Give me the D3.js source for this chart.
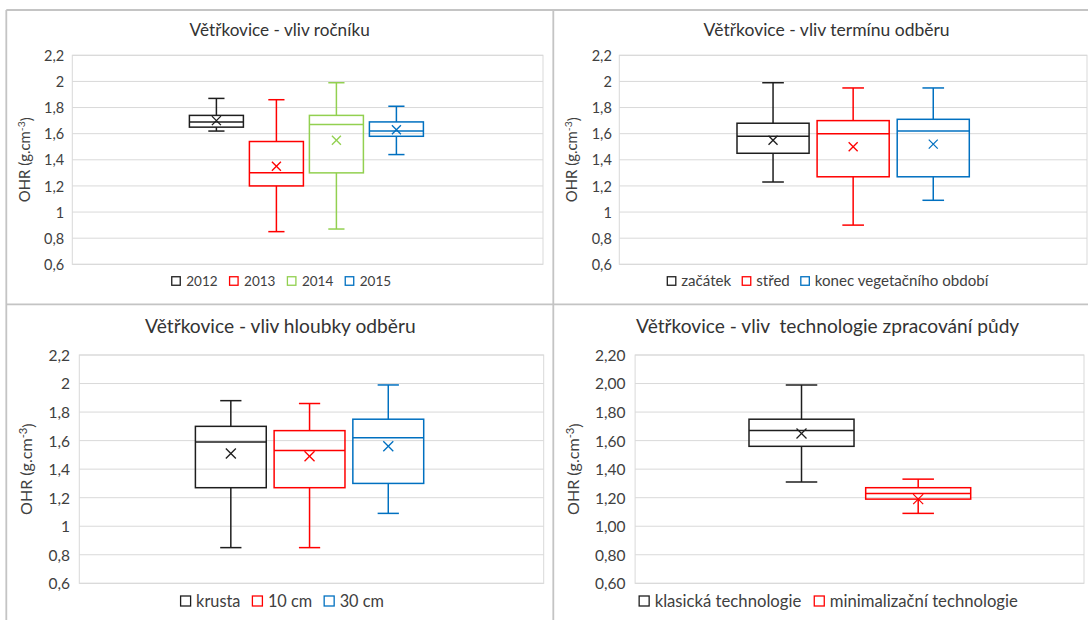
<!DOCTYPE html>
<html><head><meta charset="utf-8">
<script src="https://cdn.jsdelivr.net/npm/d3@7"></script>
<style>
body{margin:0;background:#fff}
svg{display:block}
text{font-family:Lato,"Open Sans",sans-serif}
</style>
</head><body>
<svg id="c" width="1088" height="620"></svg>
<script>
// ---------- DATA ----------
const tickValues = [0.6, 0.8, 1.0, 1.2, 1.4, 1.6, 1.8, 2.0, 2.2];
const tickLabelsShort = ["0,6", "0,8", "1", "1,2", "1,4", "1,6", "1,8", "2", "2,2"];
const tickLabelsFixed = ["0,60", "0,80", "1,00", "1,20", "1,40", "1,60", "1,80", "2,00", "2,20"];

const yearSeries = ["2012", "2013", "2014", "2015"];
const yearMin    = [1.62, 0.85, 0.87, 1.44];
const yearQ1     = [1.65, 1.20, 1.30, 1.58];
const yearMedian = [1.69, 1.30, 1.67, 1.62];
const yearQ3     = [1.74, 1.54, 1.74, 1.69];
const yearMax    = [1.87, 1.86, 1.99, 1.81];
const yearMean   = [1.70, 1.35, 1.55, 1.63];

const termSeries = ["začátek", "střed", "konec vegetačního období"];
const termMin    = [1.23, 0.90, 1.09];
const termQ1     = [1.45, 1.27, 1.27];
const termMedian = [1.58, 1.60, 1.62];
const termQ3     = [1.68, 1.70, 1.71];
const termMax    = [1.99, 1.95, 1.95];
const termMean   = [1.55, 1.50, 1.52];

const depthSeries = ["krusta", "10 cm", "30 cm"];
const depthMin    = [0.85, 0.85, 1.09];
const depthQ1     = [1.27, 1.27, 1.30];
const depthMedian = [1.59, 1.53, 1.62];
const depthQ3     = [1.70, 1.67, 1.75];
const depthMax    = [1.88, 1.86, 1.99];
const depthMean   = [1.51, 1.49, 1.56];

const techSeries = ["klasická technologie", "minimalizační technologie"];
const techMin    = [1.31, 1.09];
const techQ1     = [1.56, 1.19];
const techMedian = [1.67, 1.23];
const techQ3     = [1.75, 1.27];
const techMax    = [1.99, 1.33];
const techMean   = [1.65, 1.19];

const titles = [
  "Větřkovice - vliv ročníku",
  "Větřkovice - vliv termínu odběru",
  "Větřkovice - vliv hloubky odběru",
  "Větřkovice - vliv  technologie zpracování půdy"
];

// ---------- STYLE / LAYOUT ----------
const BLACK = "#1e1e1e", RED = "#ff0000", GREEN = "#92d050", BLUE = "#0070c0";
const GRID = "#d9d9d9", BORDER = "#c4c4c4", TEXT = "#404040", TITLE = "#333333";

const panels = [
  { title: titles[0], series: yearSeries, colors: [BLACK, RED, GREEN, BLUE],
    mn: yearMin, q1: yearQ1, md: yearMedian, q3: yearQ3, mx: yearMax, mean: yearMean,
    labels: tickLabelsShort,
    plot: [72.3, 543, 55.3, 264.3], group: [189.4, 423.4],
    titleX: 279.7, titleY: 35.5, titleW: 180.6, tickX: 64.2, tickFont: 14.5,
    ylabX: 24.5, ylabH: 85, legY: 281, legX: 281.4, legW: 219.3, sq: 8.5, sqGap: 6, itemGap: 12, markR: 4.5 },
  { title: titles[1], series: termSeries, colors: [BLACK, RED, BLUE],
    mn: termMin, q1: termQ1, md: termMedian, q3: termQ3, mx: termMax, mean: termMean,
    labels: tickLabelsShort,
    plot: [619.3, 1087, 55.3, 264.3], group: [737, 969.3],
    titleX: 826.6, titleY: 35.5, titleW: 246.3, tickX: 611.8, tickFont: 14.5,
    ylabX: 571.3, ylabH: 85, legY: 281, legX: 827.9, legW: 321.2, sq: 8.5, sqGap: 5.5, itemGap: 11, markR: 4.5 },
  { title: titles[2], series: depthSeries, colors: [BLACK, RED, BLUE],
    mn: depthMin, q1: depthQ1, md: depthMedian, q3: depthQ3, mx: depthMax, mean: depthMean,
    labels: tickLabelsShort,
    plot: [79.3, 543.7, 355, 583.3], group: [195.4, 423.7],
    titleX: 280.3, titleY: 333, titleW: 270.7, tickX: 70.1, tickFont: 15.5,
    ylabX: 26.3, ylabH: 91.7, legY: 601, legX: 282.3, legW: 203.4, sq: 10, sqGap: 5.5, itemGap: 12, markR: 5 },
  { title: titles[3], series: techSeries, colors: [BLACK, RED],
    mn: techMin, q1: techQ1, md: techMedian, q3: techQ3, mx: techMax, mean: techMean,
    labels: tickLabelsFixed,
    plot: [635.1, 1084, 355, 583.3], group: [749, 970.7],
    titleX: 827.6, titleY: 333, titleW: 383.6, tickX: 625.5, tickFont: 15.5,
    ylabX: 573.3, ylabH: 91.7, legY: 601, legX: 828.7, legW: 379.1, sq: 10, sqGap: 5.5, itemGap: 13, markR: 5 }
];

const svg = d3.select("#c");
svg.append("rect").attr("width", 1088).attr("height", 620).attr("fill", "#fff");

function fitWidth(sel, base, target) {
  const len = sel.node().getComputedTextLength();
  sel.attr("font-size", base * target / len);
}

panels.forEach(p => {
  const g = svg.append("g");
  const [x0, x1, y0, y1] = p.plot;
  const y = d3.scaleLinear().domain([0.6, 2.2]).range([y1, y0]);
  const x = d3.scaleBand().domain(p.series).range(p.group).paddingInner(0.1).paddingOuter(0);
  const bw = x.bandwidth();

  // gridlines
  g.append("g").selectAll("line").data(tickValues).join("line")
    .attr("x1", x0).attr("x2", x1)
    .attr("y1", d => y(d)).attr("y2", d => y(d))
    .attr("stroke", GRID).attr("stroke-width", 1);
  // plot border
  g.append("rect").attr("x", x0).attr("y", y0).attr("width", x1 - x0).attr("height", y1 - y0)
    .attr("fill", "none").attr("stroke", GRID).attr("stroke-width", 1);

  // y axis labels
  const axis = d3.axisLeft(y).tickValues(tickValues).tickSize(0).tickPadding(0)
    .tickFormat((d, i) => p.labels[i]);
  const ag = g.append("g").attr("transform", `translate(${p.tickX},0)`).call(axis);
  ag.select(".domain").remove();
  ag.selectAll("text").attr("font-size", p.tickFont).attr("fill", TEXT)
    .attr("font-family", "Lato, sans-serif").attr("dy", "0.35em");

  // title
  const t = g.append("text").attr("x", p.titleX).attr("y", p.titleY)
    .attr("text-anchor", "middle").attr("fill", TITLE).attr("font-size", 16)
    .attr("xml:space", "preserve").style("white-space", "pre").text(p.title);
  fitWidth(t, 16, p.titleW);

  // y-axis title
  const cy = (y0 + y1) / 2;
  const yl = g.append("text").attr("text-anchor", "middle").attr("fill", TEXT)
    .attr("font-size", 13)
    .attr("transform", `translate(${p.ylabX},${cy}) rotate(-90)`)
    .attr("dy", "0.35em");
  yl.append("tspan").text("OHR (g.cm");
  yl.append("tspan").attr("font-size", "70%").attr("dy", "-0.45em").text("-3");
  yl.append("tspan").attr("dy", "0.45em").text(")");
  fitWidth(yl, 13, p.ylabH);

  // boxes
  p.series.forEach((s, i) => {
    const c = p.colors[i];
    const cx = x(s) + bw / 2;
    const cap = bw * 0.3;
    const bg = g.append("g").attr("stroke", c).attr("stroke-width", 1.5).attr("fill", "none");
    // whiskers
    bg.append("line").attr("x1", cx).attr("x2", cx).attr("y1", y(p.mx[i])).attr("y2", y(p.q3[i]));
    bg.append("line").attr("x1", cx).attr("x2", cx).attr("y1", y(p.q1[i])).attr("y2", y(p.mn[i]));
    bg.append("line").attr("x1", cx - cap / 2).attr("x2", cx + cap / 2).attr("y1", y(p.mx[i])).attr("y2", y(p.mx[i]));
    bg.append("line").attr("x1", cx - cap / 2).attr("x2", cx + cap / 2).attr("y1", y(p.mn[i])).attr("y2", y(p.mn[i]));
    // box
    bg.append("rect").attr("x", x(s)).attr("width", bw)
      .attr("y", y(p.q3[i])).attr("height", y(p.q1[i]) - y(p.q3[i]));
    // median
    bg.append("line").attr("x1", x(s)).attr("x2", x(s) + bw).attr("y1", y(p.md[i])).attr("y2", y(p.md[i]));
    // mean marker
    const my = y(p.mean[i]), r = p.markR;
    bg.append("line").attr("x1", cx - r).attr("x2", cx + r).attr("y1", my - r).attr("y2", my + r).attr("stroke-width", 1.3);
    bg.append("line").attr("x1", cx - r).attr("x2", cx + r).attr("y1", my + r).attr("y2", my - r).attr("stroke-width", 1.3);
  });

  // legend
  const lg = g.append("g");
  const items = p.series.map((s, i) => {
    const it = lg.append("g");
    it.append("rect").attr("width", p.sq).attr("height", p.sq).attr("y", p.legY - p.sq / 2)
      .attr("fill", "#fff").attr("stroke", p.colors[i]).attr("stroke-width", 1.3);
    const tx = it.append("text").attr("x", p.sq + p.sqGap).attr("y", p.legY).attr("dy", "0.35em")
      .attr("fill", TEXT).attr("font-size", 14).text(s);
    return { it, tx };
  });
  const n = p.series.length;
  const fixed = n * (p.sq + p.sqGap) + (n - 1) * p.itemGap;
  const sumText = d3.sum(items, d => d.tx.node().getComputedTextLength());
  const fs = 14 * (p.legW - fixed) / sumText;
  items.forEach(d => d.tx.attr("font-size", fs));
  let cur = p.legX - p.legW / 2;
  items.forEach(d => {
    d.it.attr("transform", `translate(${cur},0)`);
    cur += p.sq + p.sqGap + d.tx.node().getComputedTextLength() + p.itemGap;
  });
});

// chart borders
const bd = svg.append("g").attr("stroke", BORDER).attr("stroke-width", 1.8);
bd.append("line").attr("x1", 6.3).attr("x2", 1088).attr("y1", 10).attr("y2", 10);
bd.append("line").attr("x1", 6.3).attr("x2", 6.3).attr("y1", 10).attr("y2", 620);
bd.append("line").attr("x1", 553.3).attr("x2", 553.3).attr("y1", 10).attr("y2", 620);
bd.append("line").attr("x1", 6.3).attr("x2", 1088).attr("y1", 304.3).attr("y2", 304.3);
</script>
</body></html>
